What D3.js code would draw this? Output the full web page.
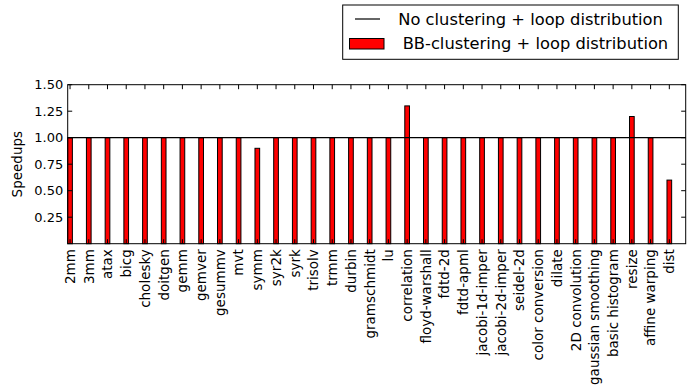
<!DOCTYPE html>
<html>
<head>
<meta charset="utf-8">
<script src="https://cdn.jsdelivr.net/npm/d3@7"></script>
<style>
  html, body { margin: 0; padding: 0; background: #fff; }
  svg { display: block; font-family: "DejaVu Sans", sans-serif; }
</style>
</head>
<body>
<svg id="chart" width="694" height="389"></svg>
<script>
// Benchmarks on the x axis
const benchmarks = [
  "2mm", "3mm", "atax", "bicg", "cholesky", "doitgen", "gemm", "gemver",
  "gesummv", "mvt", "symm", "syr2k", "syrk", "trisolv", "trmm", "durbin",
  "gramschmidt", "lu", "correlation", "floyd-warshall", "fdtd-2d", "fdtd-apml",
  "jacobi-1d-imper", "jacobi-2d-imper", "seidel-2d", "color conversion",
  "dilate", "2D convolution", "gaussian smoothing", "basic histogram",
  "resize", "affine warping", "dist"
];

// Speedup of BB-clustering + loop distribution per benchmark
const bbClustering = [
  1.00, 1.00, 1.00, 1.00, 1.00, 1.00, 1.00, 1.00,
  1.00, 1.00, 0.90, 1.00, 1.00, 1.00, 1.00, 1.00,
  1.00, 1.00, 1.30, 1.00, 1.00, 1.00,
  1.00, 1.00, 1.00, 1.00,
  1.00, 1.00, 1.00, 1.00,
  1.20, 1.00, 0.60
];

// Baseline: no clustering + loop distribution
const baseline = 1.0;

const yTicks = [0.25, 0.50, 0.75, 1.00, 1.25, 1.50];
const seriesLabels = ["No clustering + loop distribution", "BB-clustering + loop distribution"];

const svg = d3.select("#chart");
const plot = { left: 67.7, right: 685.7, top: 84.7, bottom: 243.7 };
const tickFont = 13;
const labelFont = 13.5;
const legendFont = 16.3;
const tickLen = 4.5;
const barWidth = 0.25;

const x = d3.scaleLinear().domain([0, benchmarks.length]).range([plot.left, plot.right]);
const y = d3.scaleLinear().domain([0, 1.5]).range([plot.bottom, plot.top]);
const center = i => x(i + barWidth / 2);

// Bars
svg.append("g").selectAll("rect")
  .data(bbClustering)
  .join("rect")
  .attr("x", (d, i) => x(i))
  .attr("width", x(barWidth) - x(0))
  .attr("y", d => y(d))
  .attr("height", d => y(0) - y(d))
  .attr("fill", "#ff0000")
  .attr("stroke", "#000")
  .attr("stroke-width", 1);

// Baseline line
svg.append("line")
  .attr("x1", plot.left).attr("x2", plot.right)
  .attr("y1", y(baseline)).attr("y2", y(baseline))
  .attr("stroke", "#000").attr("stroke-width", 1.2);

// Inward ticks on all four sides
const ticks = svg.append("g").attr("stroke", "#000").attr("stroke-width", 1);
benchmarks.forEach((b, i) => {
  const cx = center(i);
  ticks.append("line").attr("x1", cx).attr("x2", cx).attr("y1", plot.bottom).attr("y2", plot.bottom - tickLen);
  ticks.append("line").attr("x1", cx).attr("x2", cx).attr("y1", plot.top).attr("y2", plot.top + tickLen);
});
yTicks.forEach(v => {
  const cy = y(v);
  ticks.append("line").attr("x1", plot.left).attr("x2", plot.left + tickLen).attr("y1", cy).attr("y2", cy);
  ticks.append("line").attr("x1", plot.right).attr("x2", plot.right - tickLen).attr("y1", cy).attr("y2", cy);
});

// Frame
svg.append("rect")
  .attr("x", plot.left).attr("y", plot.top)
  .attr("width", plot.right - plot.left).attr("height", plot.bottom - plot.top)
  .attr("fill", "none").attr("stroke", "#000").attr("stroke-width", 1);

// Y tick labels
svg.append("g").selectAll("text")
  .data(yTicks)
  .join("text")
  .attr("x", plot.left - 4.5)
  .attr("y", d => y(d))
  .attr("dy", "0.36em")
  .attr("text-anchor", "end")
  .attr("font-size", tickFont)
  .text(d => d.toFixed(2));

// Y axis title
svg.append("text")
  .attr("transform", `translate(21.5,${(plot.top + plot.bottom) / 2}) rotate(-90)`)
  .attr("text-anchor", "middle")
  .attr("font-size", labelFont)
  .text("Speedups");

// X tick labels, rotated
svg.append("g").selectAll("text")
  .data(benchmarks)
  .join("text")
  .attr("transform", (d, i) => `translate(${center(i)},${plot.bottom + 5.5}) rotate(-90)`)
  .attr("text-anchor", "end")
  .attr("dy", "0.36em")
  .attr("font-size", labelFont)
  .text(d => d);

// Legend
const lg = svg.append("g");
lg.append("rect")
  .attr("x", 342.7).attr("y", 5)
  .attr("width", 678.3 - 342.7).attr("height", 59.3 - 5)
  .attr("fill", "#fff").attr("stroke", "#000").attr("stroke-width", 1);
lg.append("line")
  .attr("x1", 355).attr("x2", 380).attr("y1", 19).attr("y2", 19)
  .attr("stroke", "#000").attr("stroke-width", 1.2);
lg.append("rect")
  .attr("x", 349.5).attr("y", 38.5).attr("width", 34.5).attr("height", 10.5)
  .attr("fill", "#ff0000").attr("stroke", "#000").attr("stroke-width", 1);
lg.append("text")
  .attr("x", 398.3).attr("y", 19).attr("dy", "0.36em")
  .attr("font-size", legendFont)
  .text(seriesLabels[0]);
lg.append("text")
  .attr("x", 402.7).attr("y", 43.5).attr("dy", "0.36em")
  .attr("font-size", legendFont)
  .text(seriesLabels[1]);
</script>
</body>
</html>
